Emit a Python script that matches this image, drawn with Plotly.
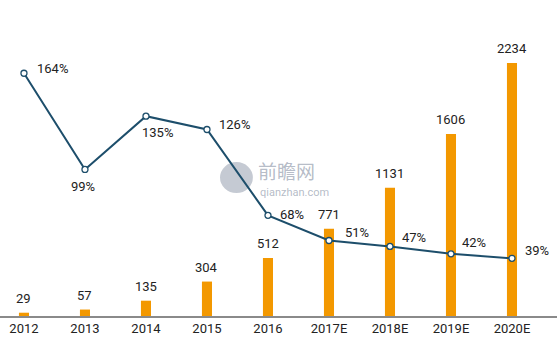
import plotly.graph_objects as go

years = ["2012", "2013", "2014", "2015", "2016", "2017E", "2018E", "2019E", "2020E"]
market_size = [29, 57, 135, 304, 512, 771, 1131, 1606, 2234]
growth_pct = [164, 99, 135, 126, 68, 51, 47, 42, 39]

# label offsets (pixels) for the growth labels
lbl_dx = [11, -2, -6, 10, 10, 14, 10, 9, 11]
lbl_dy = [5, -17, -16, 5, 1, 8, 9, 11, 8]
lbl_anchor = ["left", "center", "left", "left", "left", "left", "left", "left", "left"]

FONT = "Roboto, Arial, sans-serif"
BAR_COLOR = "#F39800"
LINE_COLOR = "#1D4E6B"
WM = "rgba(140,150,168,0.65)"

fig = go.Figure()
fig.add_trace(go.Bar(
    x=years, y=market_size, width=0.165,
    marker=dict(color=BAR_COLOR, line=dict(width=0)),
    showlegend=False, hoverinfo="skip",
))
fig.add_trace(go.Scatter(
    x=years, y=growth_pct, yaxis="y2", mode="lines+markers",
    line=dict(color=LINE_COLOR, width=2),
    marker=dict(symbol="circle", size=6, color="white",
                line=dict(color=LINE_COLOR, width=1.3)),
    cliponaxis=False, showlegend=False, hoverinfo="skip",
))

for i, v in enumerate(market_size):
    fig.add_annotation(
        x=i, y=v, xref="x", yref="y", text=str(v), showarrow=False,
        xanchor="center", yanchor="bottom", yshift=5,
        font=dict(family=FONT, size=13, color="#222222"),
    )

for i, g in enumerate(growth_pct):
    fig.add_annotation(
        x=i, y=g, xref="x", yref="y2", text=f"{g}%", showarrow=False,
        xanchor=lbl_anchor[i], yanchor="middle",
        xshift=lbl_dx[i], yshift=lbl_dy[i],
        font=dict(family=FONT, size=13, color="#222222"),
    )

# watermark
fig.add_shape(type="circle", xref="paper", yref="paper",
              x0=0.395, x1=0.454, y0=0.389, y1=0.487,
              fillcolor="rgba(140,150,168,0.5)", line=dict(width=0), layer="below")
fig.add_annotation(x=0.459, y=0.459, xref="paper", yref="paper", text="前瞻网",
                   showarrow=False, xanchor="left", yanchor="middle",
                   font=dict(family="Noto Sans CJK SC", size=19, color=WM))
fig.add_annotation(x=0.463, y=0.39, xref="paper", yref="paper", text="qianzhan.com",
                   showarrow=False, xanchor="left", yanchor="middle",
                   font=dict(family=FONT, size=11, color=WM))

fig.update_layout(
    width=557, height=353,
    margin=dict(l=0, r=0, t=0, b=37),
    paper_bgcolor="white", plot_bgcolor="white",
    xaxis=dict(type="category", range=[-0.393, 8.738], showgrid=False,
               showline=True, linecolor="#8a8a8a", linewidth=1.5,
               ticks="", tickfont=dict(family=FONT, size=13, color="#222222"),
               fixedrange=True),
    yaxis=dict(range=[0, 2789], visible=False, showgrid=False, fixedrange=True),
    yaxis2=dict(range=[0, 213.5], overlaying="y", side="right", visible=False,
                showgrid=False, fixedrange=True),
    bargap=0.8,
)

fig.write_html("out.html")
